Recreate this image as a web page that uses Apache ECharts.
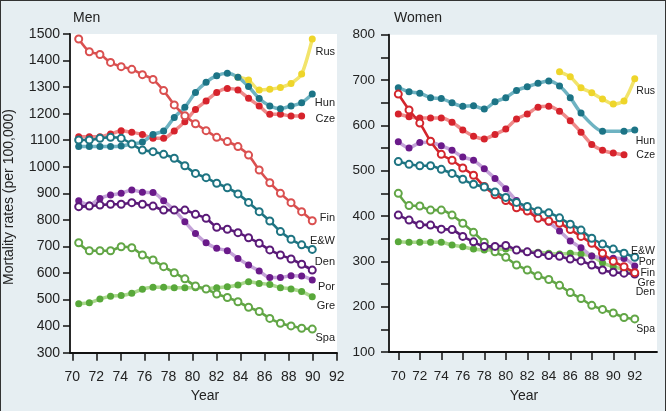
<!DOCTYPE html>
<html><head><meta charset="utf-8">
<script src="https://cdn.jsdelivr.net/npm/echarts@6/dist/echarts.min.js"></script>
<style>
html,body{margin:0;padding:0;background:#fff;}
#frame{position:absolute;left:0;top:0;width:666px;height:420px;background:#e6eef2;border-left:1.5px solid #333;border-top:1.5px solid #333;border-right:1.5px solid #333;box-sizing:border-box;}
#c{position:absolute;left:0;top:0;width:672px;height:411px;}
</style>
</head><body><div id="frame"></div><div id="c"></div>
<script>
// Years 1970..1992 (23 observations per series)
const years = [70,71,72,73,74,75,76,77,78,79,80,81,82,83,84,85,86,87,88,89,90,91,92];
const tickYears = [70,72,74,76,78,80,82,84,86,88,90,92];

// Men
const menRus = [null,null,null,null,null,null,null,null,null,null,null,null,null,null,null,1337,1327,1289,1292,1299,1314,1349,1481];
const menHun = [1076,1076,1076,1076,1078,1086,1093,1122,1135,1186,1224,1280,1318,1343,1352,1337,1302,1257,1229,1219,1229,1241,1274];
const menCze = [1113,1113,1113,1123,1136,1130,1122,1107,1107,1135,1170,1216,1248,1280,1295,1289,1258,1229,1198,1198,1191,1191,null];
const menFin = [1481,1433,1423,1393,1377,1367,1347,1329,1287,1233,1192,1162,1136,1111,1095,1076,1044,988,940,900,865,831,797];
const menEW  = [1101,1101,1107,1111,1107,1086,1063,1057,1047,1032,1004,975,959,938,921,898,866,831,796,756,727,706,689];
const menDen = [850,852,856,859,859,865,859,852,837,837,837,821,806,772,765,752,733,712,687,668,653,633,611];
const menPor = [872,856,881,894,900,913,904,903,872,837,793,749,714,693,684,655,630,608,583,583,590,589,574];
const menGre = [484,488,502,513,515,524,539,546,546,545,545,545,542,545,548,555,567,561,557,545,540,530,511];
const menSpa = [714,684,684,684,699,695,668,649,624,601,578,551,540,521,508,492,471,455,429,411,401,392,389];

// Women
const womRus = [null,null,null,null,null,null,null,null,null,null,null,null,null,null,null,718,707,683,672,658,647,654,703];
const womHun = [683,674,671,661,659,650,642,643,636,652,661,677,685,693,698,687,661,627,null,587,null,587,590];
const womCze = [625,619,616,616,616,607,590,576,570,580,592,614,625,640,642,631,610,585,558,545,539,535,null];
const womFin = [669,634,605,565,536,523,506,490,465,447,434,418,411,395,389,384,370,355,340,318,300,288,275];
const womEW  = [520,514,511,511,503,494,481,470,464,453,441,430,421,411,407,396,382,369,351,338,327,318,309];
const womPor = [564,550,562,563,555,545,530,523,504,483,460,434,414,398,386,367,345,330,312,308,307,306,290];
const womGre = [343,342,342,342,342,336,332,327,325,326,327,325,322,320,318,316,318,316,312,297,288,282,276];
const womDen = [402,391,381,380,371,370,355,343,333,333,335,325,321,317,313,311,305,301,292,281,276,274,272];
const womSpa = [450,423,422,413,413,402,384,364,342,321,309,292,281,268,260,247,231,218,203,194,186,176,173];

const FONT = '"Liberation Sans", Arial, sans-serif';
const pts = arr => years.map((y,i)=>arr[i]==null?null:[y,arr[i]]).filter(p=>p);

function filled(name, arr, xi, yi, lineColor, dotColor){
  return {type:'line', name, xAxisIndex:xi, yAxisIndex:yi, data:pts(arr), smooth:0.25,
    symbol:'circle', symbolSize:7, showAllSymbol:true,
    lineStyle:{color:lineColor, width:3.5}, itemStyle:{color:dotColor},
    emphasis:{disabled:true}, silent:true};
}
function hollow(name, arr, xi, yi, color){
  return {type:'line', name, xAxisIndex:xi, yAxisIndex:yi, data:pts(arr), smooth:0.25,
    symbol:'emptyCircle', symbolSize:7, showAllSymbol:true,
    lineStyle:{color:color, width:2.6}, itemStyle:{color:color, borderWidth:1.4, borderColor:color},
    emphasis:{disabled:true}, silent:true};
}

const C = {
  rusL:'#f2e46b', rusD:'#eed52a',
  hunL:'#6eb3c2', hunD:'#1c7486',
  czeL:'#ef8a8a', czeD:'#d6232c',
  finM:'#da5050', finW:'#d3262d',
  ew:'#1e7482', den:'#5a1a78',
  porL:'#c4a3d8', porD:'#6a1a8a',
  greL:'#a9d88c', greD:'#58a83a',
  spa:'#62a646'
};

const axisLine = {show:true, lineStyle:{color:'#111', width:1.8}};
const tickStyle = {color:'#111', width:1.5};

const option = {
  backgroundColor:'transparent',
  animation:false,
  textStyle:{fontFamily:FONT},
  grid:[
    {left:70, top:34, width:267, height:318.7, show:true, backgroundColor:'#fff', borderWidth:0},
    {left:389, top:34.7, width:268, height:317.3, show:true, backgroundColor:'#fff', borderWidth:0}
  ],
  xAxis:[
    {gridIndex:0, type:'value', min:69.18, max:94.33, show:false, position:'top'},
    {gridIndex:0, type:'value', min:69.81, max:92.02, position:'bottom',
      axisLine:axisLine, splitLine:{show:false},
      axisTick:{show:true, length:8, lineStyle:tickStyle, customValues:tickYears},
      axisLabel:{fontSize:14, color:'#222', margin:17, customValues:tickYears, fontFamily:FONT}},
    {gridIndex:1, type:'value', min:69.135, max:94.07, position:'bottom',
      axisLine:axisLine, splitLine:{show:false},
      axisTick:{show:true, length:8, lineStyle:tickStyle, customValues:tickYears},
      axisLabel:{fontSize:13.5, color:'#222', margin:17, customValues:tickYears, fontFamily:FONT}}
  ],
  yAxis:[
    {gridIndex:0, type:'value', min:300, max:1500, interval:100,
      axisLine:axisLine, splitLine:{show:false},
      axisTick:{show:true, length:7, lineStyle:tickStyle},
      axisLabel:{fontSize:14, color:'#222', margin:10, fontFamily:FONT, formatter:v => String(v)}},
    {gridIndex:1, type:'value', min:100, max:800, interval:50,
      axisLine:axisLine, splitLine:{show:false},
      axisTick:{show:true, length:8, lineStyle:tickStyle},
      axisLabel:{fontSize:13.5, color:'#222', margin:14, fontFamily:FONT,
        formatter:v => (v % 100 === 0 ? String(v) : '')}}
  ],
  series:[
    filled('Rus', menRus, 0, 0, C.rusL, C.rusD),
    filled('Cze', menCze, 0, 0, C.czeL, C.czeD),
    filled('Hun', menHun, 0, 0, C.hunL, C.hunD),
    hollow('Fin', menFin, 0, 0, C.finM),
    hollow('E&W', menEW, 0, 0, C.ew),
    filled('Gre', menGre, 0, 0, C.greL, C.greD),
    hollow('Spa', menSpa, 0, 0, C.spa),
    filled('Por', menPor, 0, 0, C.porL, C.porD),
    hollow('Den', menDen, 0, 0, C.den),

    filled('Rus', womRus, 2, 1, C.rusL, C.rusD),
    filled('Cze', womCze, 2, 1, C.czeL, C.czeD),
    filled('Hun', womHun, 2, 1, C.hunL, C.hunD),
    filled('Gre', womGre, 2, 1, C.greL, C.greD),
    hollow('Spa', womSpa, 2, 1, C.spa),
    hollow('Den', womDen, 2, 1, C.den),
    filled('Por', womPor, 2, 1, C.porL, C.porD),
    hollow('Fin', womFin, 2, 1, C.finW),
    hollow('E&W', womEW, 2, 1, C.ew)
  ],
  graphic:[
    {type:'text', left:73, top:11, style:{text:'Men', font:'14px '+FONT, fill:'#222'}},
    {type:'text', left:394, top:11, style:{text:'Women', font:'14px '+FONT, fill:'#222'}},
    {type:'text', x:205, y:396, style:{text:'Year', font:'14px '+FONT, fill:'#222', textAlign:'center', textVerticalAlign:'middle'}},
    {type:'text', x:524, y:396, style:{text:'Year', font:'14px '+FONT, fill:'#222', textAlign:'center', textVerticalAlign:'middle'}},
    {type:'text', x:9, y:197, rotation:Math.PI/2, style:{text:'Mortality rates (per 100,000)', font:'14px '+FONT, fill:'#222', textAlign:'center', textVerticalAlign:'middle'}},
    ...[['Rus',52],['Hun',103],['Cze',119],['Fin',218],['E&W',241],['Den',262],['Por',287],['Gre',306],['Spa',338]].map(([t,y])=>(
      {type:'text', x:335, y:y, z:100, style:{text:t, font:'11px '+FONT, fill:'#222', textAlign:'right', textVerticalAlign:'middle'}})),
    ...[['Rus',91],['Hun',141],['Cze',155],['E&W',251],['Por',262],['Fin',273],['Gre',283],['Den',292],['Spa',329]].map(([t,y])=>(
      {type:'text', x:655, y:y, z:100, style:{text:t, font:'10.5px '+FONT, fill:'#222', textAlign:'right', textVerticalAlign:'middle'}}))
  ]
};

const chart = echarts.init(document.getElementById('c'), null, {renderer:'canvas'});
chart.setOption(option);
</script>
</body></html>
